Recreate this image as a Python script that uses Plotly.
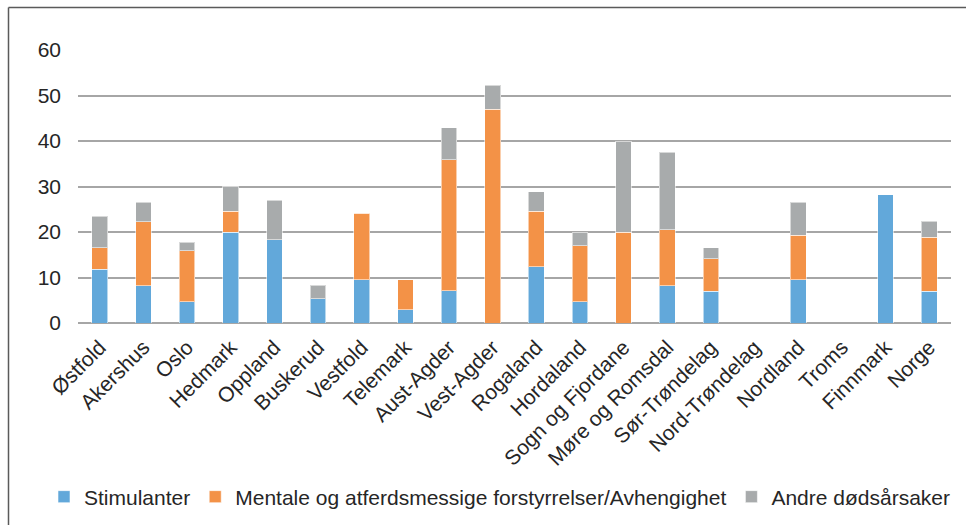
import plotly.graph_objects as go

categories = ["Østfold", "Akershus", "Oslo", "Hedmark", "Oppland", "Buskerud", "Vestfold",
              "Telemark", "Aust-Agder", "Vest-Agder", "Rogaland", "Hordaland",
              "Sogn og Fjordane", "Møre og Romsdal", "Sør-Trøndelag", "Nord-Trøndelag",
              "Nordland", "Troms", "Finnmark", "Norge"]
stimulanter = [11.8, 8.2, 4.7, 20.0, 18.3, 5.3, 9.5, 2.9, 7.1, 0, 12.4, 4.7, 0, 8.2, 7.0, 0, 9.5, 0, 28.2, 7.0]
mentale = [4.7, 14.1, 11.2, 4.6, 0, 0, 14.6, 6.6, 28.8, 47.0, 12.2, 12.3, 20.0, 12.3, 7.1, 0, 9.8, 0, 0, 11.8]
andre = [7.0, 4.2, 1.8, 5.4, 8.7, 3.0, 0, 0, 7.0, 5.2, 4.2, 3.0, 19.8, 17.0, 2.4, 0, 7.2, 0, 0, 3.6]

series_names = ["Stimulanter", "Mentale og atferdsmessige forstyrrelser/Avhengighet", "Andre dødsårsaker"]
colors = ["#62A8DA", "#F39247", "#A8ABAC"]

W, H = 966, 525
L, R, T, B = 78, 15, 50, 202
pw, ph = W - L - R, H - T - B

fig = go.Figure()
for name, vals, col in zip(series_names, [stimulanter, mentale, andre], colors):
    fig.add_trace(go.Bar(
        x=categories, y=vals, name=name,
        marker=dict(color=col, line=dict(color="rgba(255,255,255,0.55)", width=1)),
        width=0.36,
    ))

def px_x(p):
    return (p - L) / pw

def px_y(p):
    return (H - B - p) / ph

font = "Liberation Sans, Arial, sans-serif"
fig.update_layout(
    width=W, height=H,
    barmode="stack",
    margin=dict(l=L, r=R, t=T, b=B, autoexpand=False),
    plot_bgcolor="white", paper_bgcolor="white",
    font=dict(family=font, size=21, color="#262626"),
    showlegend=True,
    legend=dict(orientation="h", x=px_x(44), y=px_y(497), yanchor="middle", xanchor="left",
                font=dict(size=21, color="#262626"), itemclick=False,
                traceorder="normal", tracegroupgap=0),
    xaxis=dict(tickangle=-45, showgrid=False, showline=False, ticks="", automargin=False,
               ticklabelstandoff=7,
               tickfont=dict(size=21, color="#262626"), fixedrange=True),
    yaxis=dict(range=[0, 60], dtick=10, showgrid=True, gridcolor="#A6A6A6", gridwidth=1.5,
               zeroline=True, zerolinecolor="#A6A6A6", zerolinewidth=1.5, automargin=False,
               ticks="", ticklabelstandoff=16, tickfont=dict(size=21, color="#262626"),
               showline=False),
    shapes=[
        dict(type="line", xref="paper", yref="paper", x0=px_x(8.5), x1=px_x(8.5),
             y0=px_y(7.5), y1=px_y(530), line=dict(color="#5A5A5A", width=1.5)),
        dict(type="line", xref="paper", yref="paper", x0=px_x(8.5), x1=px_x(970),
             y0=px_y(7.5), y1=px_y(7.5), line=dict(color="#5A5A5A", width=1.5)),
    ],
)

fig.write_html("out.html", config={"displayModeBar": False},
               post_script="document.body.style.margin='0';document.body.style.overflow='hidden';")
